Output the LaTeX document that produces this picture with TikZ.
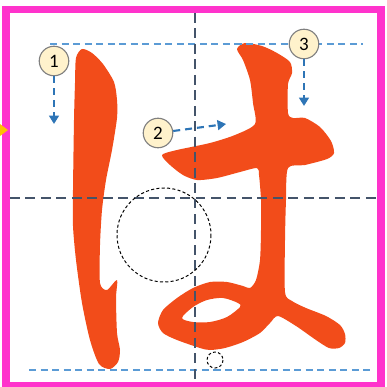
\documentclass[tikz,border=0pt]{standalone}
\usepackage{fontspec}
\setsansfont{Carlito}
\usetikzlibrary{arrows.meta,positioning}
\definecolor{framepink}{HTML}{FF33CC}
\definecolor{ink}{HTML}{F24C1A}
\definecolor{guide}{HTML}{5B9BD5}
\definecolor{axisgray}{HTML}{44546A}
\definecolor{orderblue}{HTML}{2E75B6}
\definecolor{badge}{HTML}{FFF2CC}
\definecolor{marker}{HTML}{FFC000}
\tikzset{
  num/.style={circle,draw=gray,fill=badge,line width=0.8pt,minimum size=21pt,
    inner sep=0pt,font=\sffamily\fontsize{13.5}{14}\selectfont},
  order/.style={orderblue,line width=1.5pt,dash pattern=on 5pt off 3.5pt,
    -{Triangle[width=7pt,length=6pt]}},
  guideline/.style={guide,line width=1pt,dash pattern=on 5pt off 3.2pt},
  axisline/.style={axisgray,line width=1.8pt,dash pattern=on 7pt off 4pt},
}
\begin{document}
\begin{tikzpicture}[x=0.025cm,y=-0.025cm]
  \useasboundingbox (0,0) rectangle (387,387);
  % glyph, stroke 1
  \fill[ink] plot[smooth cycle,tension=0.45] coordinates {
    (82,49) (92,53) (103,64) (114,82) (117,100) (117,118) (112,150) (106,180)
    (102,210) (100,245) (100,283) (107,290) (117,280) (116,298) (117,333)
    (120,350) (118,362) (110,369) (99,364) (90,340) (82,303) (76,260) (73,226)
    (73,190) (74,120) (75,83) (76,58)};
  % glyph, strokes 2 and 3 (one outline, hole of the loop)
  \fill[ink,even odd rule] plot[smooth cycle,tension=0.45] coordinates {
    (162,155) (177,150) (210,143) (235,135) (255,124) (253,103) (250,80)
    (243,60) (237,49) (245,43) (262,46) (277,53) (290,62) (292,73) (288,84)
    (288,113) (293,118) (305,118) (320,127) (331,141) (334,153) (327,159)
    (305,165) (288,168) (286,200) (285,240) (285,292) (292,301) (306,308)
    (326,316) (340,325) (345,334) (345,343) (339,348) (329,348) (316,340)
    (296,326) (278,316) (270,323) (260,333) (243,342) (225,348) (210,350)
    (200,348) (177,340) (163,333) (158,323) (163,310) (177,298) (193,288)
    (210,282) (227,282) (243,286) (250,288) (256,280) (260,260) (261,230)
    (261,200) (259,175) (257,168) (240,172) (217,178) (197,180) (183,175)
    (170,165)}
    plot[smooth cycle,tension=0.5] coordinates {
    (182,318) (193,307) (207,300) (223,298) (238,303) (240,307) (227,317)
    (210,322) (193,322)};
  % guide lines
  \draw[guideline] (50,44) -- (363,44);
  \draw[guideline] (29,370) -- (373,370);
  \draw[axisline] (10,198) -- (381,198);
  \draw[axisline] (195,13) -- (195,383);
  % balance circles
  \draw[black,line width=0.7pt,dash pattern=on 2.2pt off 1.6pt] (164,235) circle[radius=47];
  \draw[black,line width=0.7pt,dash pattern=on 2pt off 1.6pt] (215,360) circle[radius=8];
  % frame
  \draw[framepink,line width=5pt] (6,9.5) rectangle (381,385.5);
  \fill[marker] (0,124) -- (8,130) -- (0,136) -- cycle;
  % stroke order
  \node[num] (n1) at (54,61) {1};
  \node[num] (n2) at (158,133) {2};
  \node[num] (n3) at (304,44) {3};
  \coordinate (e1) at (54,124);
  \coordinate (e2) at (226,124);
  \coordinate (e3) at (304,106);
  \draw[order] (n1) -- (e1);
  \draw[order] (n2) -- (e2);
  \draw[order] (n3) -- (e3);
\end{tikzpicture}
\end{document}
